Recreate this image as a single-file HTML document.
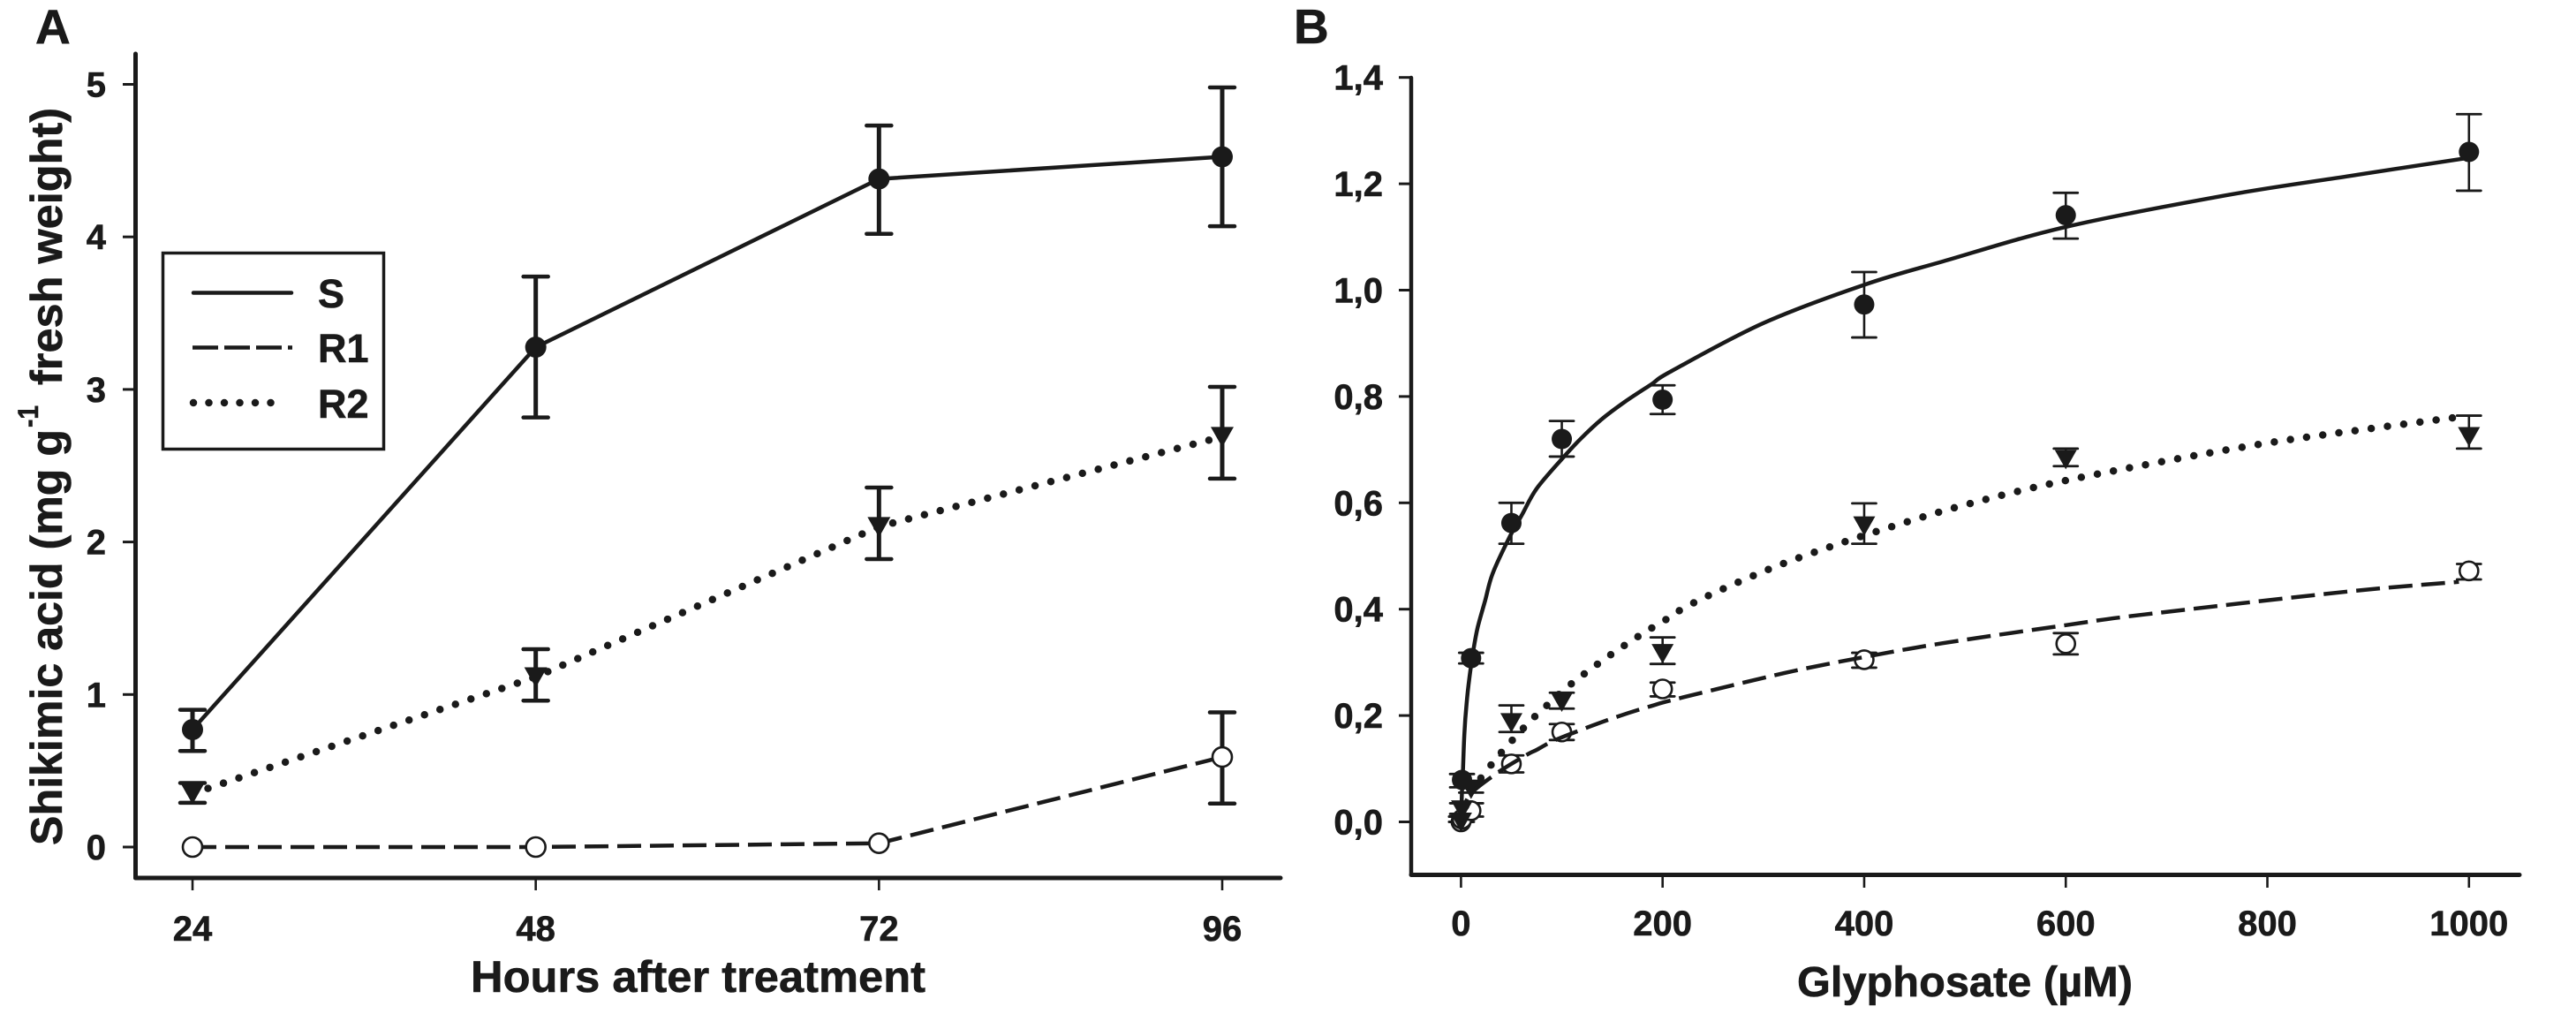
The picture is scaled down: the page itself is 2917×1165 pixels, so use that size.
<!DOCTYPE html>
<html lang="en">
<head>
<meta charset="utf-8">
<title>Shikimic acid accumulation charts</title>
<style>
html,body{margin:0;padding:0;background:#fff}
svg{display:block}
text{font-family:"Liberation Sans",Arial,sans-serif;font-weight:bold;fill:#1a1a1a;stroke:#1a1a1a;stroke-width:.6}
</style>
</head>
<body>
<svg id="figure" xmlns="http://www.w3.org/2000/svg" width="2917" height="1165" viewBox="0 0 2917 1165">
  <rect x="0" y="0" width="2917" height="1165" fill="#fff"/>
  <text x="40" y="49" font-size="55">A</text>
  <text x="1465" y="49" font-size="55">B</text>

  <g id="panelA"></g>
  <g id="panelB"></g>

  <g>
    <text transform="translate(70 957) rotate(-90)" font-size="50" textLength="471" lengthAdjust="spacingAndGlyphs">Shikimic acid (mg g</text>
    <text transform="translate(43 484) rotate(-90)" font-size="32" textLength="25" lengthAdjust="spacingAndGlyphs">-1</text>
    <text transform="translate(70 436) rotate(-90)" font-size="50" textLength="314" lengthAdjust="spacingAndGlyphs">fresh weight)</text>
  </g>
  <text x="533" y="1123" font-size="50" textLength="515" lengthAdjust="spacingAndGlyphs">Hours after treatment</text>
  <text x="2035" y="1128" font-size="48" textLength="380" lengthAdjust="spacingAndGlyphs">Glyphosate (µM)</text>

  <g>
    <rect x="184.5" y="286.5" width="250" height="222" fill="#fff" stroke="#1a1a1a" stroke-width="3.5"/>
    <line x1="219" y1="331.5" x2="330" y2="331.5" stroke="#1a1a1a" stroke-width="4.5" stroke-linecap="round"/>
    <line x1="218" y1="393.5" x2="331" y2="393.5" stroke="#1a1a1a" stroke-width="4.5" stroke-dasharray="29 7"/>
    <line x1="219" y1="456" x2="324" y2="456" stroke="#1a1a1a" stroke-width="8.5" stroke-linecap="round" stroke-dasharray="0 17.5"/>
    <text x="360" y="348" font-size="45">S</text>
    <text x="360" y="410" font-size="45">R1</text>
    <text x="360" y="473" font-size="45">R2</text>
  </g>
</svg>
<script>
// ---------- Panel A data ----------
const hours = [24, 48, 72, 96];
const hoursTickLabels = ['24', '48', '72', '96'];
const shikimicTicks = [0, 1, 2, 3, 4, 5];
const aS = [0.77, 3.277, 4.38, 4.525];
const aSHigh = [0.90, 3.74, 4.73, 4.98];
const aSLow = [0.63, 2.816, 4.02, 4.07];
const aR1 = [0.0, 0.0, 0.025, 0.59];
const aR1High = [0.0, 0.0, 0.04, 0.883];
const aR1Low = [0.0, 0.0, 0.01, 0.285];
const aR2 = [0.35, 1.115, 2.10, 2.69];
const aR2High = [0.42, 1.297, 2.357, 3.017];
const aR2Low = [0.29, 0.96, 1.888, 2.415];

// ---------- Panel B data ----------
const doseTicks = [0, 200, 400, 600, 800, 1000];
const uptakeTicks = [0, 0.2, 0.4, 0.6, 0.8, 1.0, 1.2, 1.4];
const uptakeTickLabels = ['0,0', '0,2', '0,4', '0,6', '0,8', '1,0', '1,2', '1,4'];
const doses = [0, 1, 10, 50, 100, 200, 400, 600, 1000];
const bS = [0.0, 0.079, 0.308, 0.562, 0.72, 0.794, 0.973, 1.141, 1.26];
const bSHigh = [0.01, 0.09, 0.318, 0.60, 0.754, 0.821, 1.034, 1.183, 1.331];
const bSLow = [0.0, 0.065, 0.298, 0.523, 0.687, 0.767, 0.911, 1.097, 1.187];
const bR2 = [0.0, 0.023, 0.062, 0.187, 0.226, 0.317, 0.557, 0.682, 0.725];
const bR2High = [0.01, 0.035, 0.075, 0.219, 0.243, 0.347, 0.599, 0.702, 0.764];
const bR2Low = [0.0, 0.01, 0.055, 0.169, 0.213, 0.297, 0.523, 0.669, 0.702];
const bR1 = [0.0, 0.005, 0.021, 0.109, 0.169, 0.25, 0.305, 0.335, 0.472];
const bR1High = [0.01, 0.015, 0.035, 0.125, 0.184, 0.262, 0.318, 0.355, 0.485];
const bR1Low = [0.0, 0.0, 0.01, 0.093, 0.154, 0.236, 0.29, 0.315, 0.456];

// Fitted curves (dose, value pairs)
const curveSDoses = [0, 1, 2, 3.4, 5.5, 8.4, 12.2, 16.6, 23.9, 31.2, 47.2, 60.4, 75, 101.3, 118.8, 139.2, 162.6, 188.9, 209, 300, 400, 478, 600, 758, 879, 1000];
const curveSValues = [0, 0.057, 0.1, 0.167, 0.222, 0.272, 0.322, 0.366, 0.416, 0.466, 0.532, 0.577, 0.6265, 0.685, 0.7206, 0.7566, 0.79, 0.823, 0.848, 0.938, 1.01, 1.054, 1.119, 1.178, 1.214, 1.249];
const curveR2Doses = [0, 9.3, 18, 29.2, 41.1, 54.6, 68.9, 83.5, 98.4, 112.9, 127.8, 142.7, 157.6, 172, 186.9, 201.4, 213.7, 245, 304, 364, 422, 496, 600, 776, 894, 997];
const curveR2Values = [0, 0.056, 0.078, 0.1055, 0.133, 0.161, 0.19, 0.216, 0.2417, 0.265, 0.286, 0.3065, 0.326, 0.344, 0.362, 0.378, 0.394, 0.425, 0.474, 0.516, 0.552, 0.594, 0.642, 0.705, 0.7375, 0.763];
const curveR1Doses = [0, 7.8, 34, 64.7, 75, 92.5, 126, 156.8, 188.9, 215, 321, 400, 478, 600, 678, 879, 990];
const curveR1Values = [0, 0.048, 0.0894, 0.1254, 0.1354, 0.153, 0.178, 0.199, 0.218, 0.2317, 0.28, 0.31, 0.336, 0.37, 0.39, 0.433, 0.4515];

// ---------- Scales ----------
const INK = '#1a1a1a';
const axA = x => 218 + (x - 24) * (1384 - 218) / 72;
const ayA = v => 959 - 172.7 * v;
const axB = x => 1654.4 + 1.1414 * x;
const ayB = v => 930.5 - 602 * v;

const NS = 'http://www.w3.org/2000/svg';
const panelA = document.getElementById('panelA');
const panelB = document.getElementById('panelB');

function mk(tag, attrs, parent) {
  const el = document.createElementNS(NS, tag);
  for (const k in attrs) el.setAttribute(k, attrs[k]);
  parent.appendChild(el);
  return el;
}

function drawAxisLine(parent, name, x1, y1, x2, y2, w) {
  const el = mk('line', {x1, y1, x2, y2, stroke: INK, 'stroke-width': w, 'stroke-linecap': 'round'}, parent);
  
  
}

function drawTickX(parent, name, x, y1, y2, label, baseline) {
  const t = mk('line', {x1: x, y1, x2: x, y2, stroke: INK, 'stroke-width': 2.6}, parent);
  
  
  const l = mk('text', {x, y: baseline, 'font-size': 40, 'text-anchor': 'middle'}, parent);
  l.textContent = label;
  
  
}

function drawTickY(parent, name, y, x1, x2, label, labelX) {
  const t = mk('line', {x1, y1: y, x2, y2: y, stroke: INK, 'stroke-width': 3}, parent);
  
  
  const l = mk('text', {x: labelX, y: y + 14, 'font-size': 40, 'text-anchor': 'end'}, parent);
  l.textContent = label;
  
  
}

function drawError(parent, name, x, yHigh, yLow, half, w, capW) {
  const g = mk('g', {stroke: INK, fill: 'none'}, parent);
  
  
  mk('line', {x1: x, y1: yHigh, x2: x, y2: yLow, 'stroke-width': w}, g);
  mk('line', {x1: x - half, y1: yHigh, x2: x + half, y2: yHigh, 'stroke-width': capW, 'stroke-linecap': 'round'}, g);
  mk('line', {x1: x - half, y1: yLow, x2: x + half, y2: yLow, 'stroke-width': capW, 'stroke-linecap': 'round'}, g);
}

function drawMarker(parent, name, kind, x, y, r) {
  let el;
  if (kind === 'filled') {
    el = mk('circle', {cx: x, cy: y, r, fill: INK}, parent);
  } else if (kind === 'open') {
    el = mk('circle', {cx: x, cy: y, r: r - 1, fill: '#fff', stroke: INK, 'stroke-width': 2.6}, parent);
  } else {
    const hw = r + 1, up = r - 1, dn = r;
    el = mk('polygon', {points: (x - hw) + ',' + (y - up) + ' ' + (x + hw) + ',' + (y - up) + ' ' + x + ',' + (y + dn), fill: INK}, parent);
  }
  
  
}

function polyD(xs, ys) {
  return xs.map((x, i) => (i ? 'L' : 'M') + x.toFixed(1) + ' ' + ys[i].toFixed(1)).join(' ');
}

function smoothD(xs, ys) {
  let d = 'M' + xs[0].toFixed(1) + ' ' + ys[0].toFixed(1);
  for (let i = 0; i < xs.length - 1; i++) {
    const x0 = xs[Math.max(i - 1, 0)], y0 = ys[Math.max(i - 1, 0)];
    const x1 = xs[i], y1 = ys[i], x2 = xs[i + 1], y2 = ys[i + 1];
    const x3 = xs[Math.min(i + 2, xs.length - 1)], y3 = ys[Math.min(i + 2, xs.length - 1)];
    const c1x = x1 + (x2 - x0) / 6, c1y = y1 + (y2 - y0) / 6;
    const c2x = x2 - (x3 - x1) / 6, c2y = y2 - (y3 - y1) / 6;
    d += ' C' + c1x.toFixed(1) + ' ' + c1y.toFixed(1) + ' ' + c2x.toFixed(1) + ' ' + c2y.toFixed(1) + ' ' + x2.toFixed(1) + ' ' + y2.toFixed(1);
  }
  return d;
}

const lineStyles = {
  solid: {'stroke-width': 4.5},
  dashed: {'stroke-width': 4.5, 'stroke-dasharray': '27 10'},
  dotted: {'stroke-width': 8.5, 'stroke-dasharray': '0 18.5', 'stroke-linecap': 'round'}
};

function drawLine(parent, name, d, style) {
  const attrs = Object.assign({d, fill: 'none', stroke: INK}, lineStyles[style]);
  const el = mk('path', attrs, parent);
  
  
}

// ---------- Panel A ----------
drawAxisLine(panelA, 'y-axis-a', 153.5, 61, 153.5, 994, 5);
drawAxisLine(panelA, 'x-axis-a', 153.5, 994, 1450, 994, 5);
hours.forEach((h, i) => drawTickX(panelA, 'x-hour-' + h, axA(h), 996, 1008, hoursTickLabels[i], 1065));
shikimicTicks.forEach(v => drawTickY(panelA, 'y-shikimic-' + v, ayA(v), 139, 152, String(v), 120));

const seriesA = [
  {id: 's', v: aS, hi: aSHigh, lo: aSLow, style: 'solid', kind: 'filled'},
  {id: 'r2', v: aR2, hi: aR2High, lo: aR2Low, style: 'dotted', kind: 'triangle'},
  {id: 'r1', v: aR1, hi: aR1High, lo: aR1Low, style: 'dashed', kind: 'open'}
];
seriesA.forEach(s => {
  drawLine(panelA, 'line-a-' + s.id, polyD(hours.map(axA), s.v.map(ayA)), s.style);
  hours.forEach((h, i) => {
    if (s.hi[i] > s.lo[i] + 0.05) {
      drawError(panelA, 'error-a-' + s.id + '-' + h, axA(h), ayA(s.hi[i]), ayA(s.lo[i]), 14, 5, 4.5);
    }
  });
  hours.forEach((h, i) => drawMarker(panelA, 'marker-a-' + s.id + '-' + h, s.kind, axA(h), ayA(s.v[i]), 12));
});

// ---------- Panel B ----------
drawAxisLine(panelB, 'y-axis-b', 1598, 88, 1598, 990.5, 4.5);
drawAxisLine(panelB, 'x-axis-b', 1598, 990.5, 2853, 990.5, 5);
doseTicks.forEach(d => drawTickX(panelB, 'x-dose-' + d, axB(d), 992, 1005, String(d), 1059));
uptakeTicks.forEach((v, i) => drawTickY(panelB, 'y-uptake-' + i, ayB(v), 1584, 1597, uptakeTickLabels[i], 1566));

const seriesB = [
  {id: 'r1', v: bR1, hi: bR1High, lo: bR1Low, kind: 'open'},
  {id: 'r2', v: bR2, hi: bR2High, lo: bR2Low, kind: 'triangle'},
  {id: 's', v: bS, hi: bSHigh, lo: bSLow, kind: 'filled'}
];
seriesB.forEach(s => {
  doses.forEach((d, i) => {
    if (s.kind === 'filled' && d === 0) return;
    drawError(panelB, 'error-b-' + s.id + '-' + d, axB(d), ayB(s.hi[i]), ayB(s.lo[i]), 13.5, 2.6, 2.8);
  });
});
seriesB.forEach(s => {
  doses.forEach((d, i) => {
    if (s.kind === 'filled' && d === 0) return;
    drawMarker(panelB, 'marker-b-' + s.id + '-' + d, s.kind, axB(d), ayB(s.v[i]), 11.5);
  });
});
drawLine(panelB, 'curve-b-s', smoothD(curveSDoses.map(axB), curveSValues.map(ayB)), 'solid');
drawLine(panelB, 'curve-b-r2', smoothD(curveR2Doses.map(axB), curveR2Values.map(ayB)), 'dotted');
drawLine(panelB, 'curve-b-r1', smoothD(curveR1Doses.map(axB), curveR1Values.map(ayB)), 'dashed');
</script>
</body>
</html>
